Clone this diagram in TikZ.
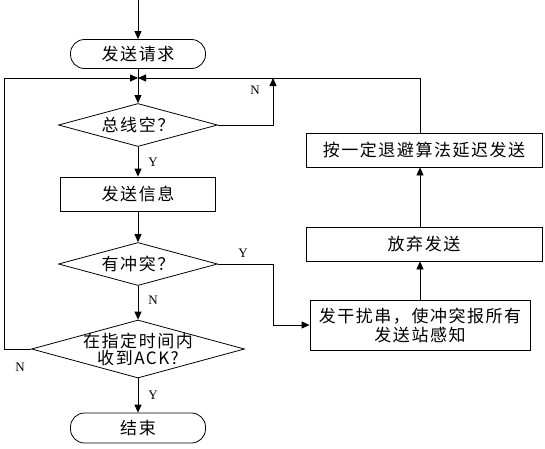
\documentclass[tikz,border=0pt]{standalone}
\usepackage{fontspec}
\setmainfont{Liberation Serif}
\newfontfamily\cjk[LetterSpace=9]{Noto Sans CJK SC}
\usetikzlibrary{shapes.geometric,arrows.meta}

\tikzset{
  base/.style={draw,line width=0.8pt,font=\cjk\fontsize{17}{17}\selectfont,inner sep=0pt,align=center},
  term/.style={base,rounded corners=14pt,minimum width=135pt,minimum height=29pt},
  proc/.style={base,rectangle,minimum width=155pt,minimum height=34pt},
  decide/.style={base,diamond,aspect=3.6,minimum width=159pt,minimum height=43pt},
  flow/.style={line width=0.8pt,-{Triangle[length=8pt,width=7pt]}},
  wire/.style={line width=0.8pt},
  yn/.style={font=\fontsize{13}{15}\selectfont,inner sep=0pt}
}

\begin{document}
\begin{tikzpicture}[x=1pt,y=-1pt]
\useasboundingbox (0,0) rectangle (545,448);

% main column
\node[term] (start) at (138,54) {发送请求};
\node[decide] (d1) at (138,125) {总线空？};
\node[proc] (send) at (138,194) {发送信息};
\node[decide] (d2) at (138,264) {有冲突？};
\node[decide,aspect=3.67,inner sep=-5pt,minimum width=213pt,minimum height=58pt] (d3) at (138,349) {在指定时间内\\收到ACK?};
\node[term,minimum height=30pt] (finish) at (138,428) {结束};

% right column
\node[proc,minimum width=236pt] (backoff) at (424,150) {按一定退避算法延迟发送};
\node[proc,minimum width=236pt] (abandon) at (424,244) {放弃发送};
\node[proc,minimum width=220pt,minimum height=50pt,font=\cjk\fontsize{17}{19}\selectfont] (jam) at (420,325) {发干扰串，使冲突报所有\\发送站感知};

\coordinate (entry) at (138,0);
\coordinate (J) at (138,78);
\coordinate (nx) at (273,78);
\coordinate (yx) at (273,264);
\coordinate (lx) at (4,349);

% labels
\node[yn] (n1) at (255,90) {N};
\node[yn] (y1) at (153,162) {Y};
\node[yn] (y2) at (243,253) {Y};
\node[yn] (n2) at (153,300) {N};
\node[yn] (n3) at (20,367) {N};
\node[yn] (y3) at (153,395) {Y};

% connectors
\draw[flow] (entry) -- (start);
\draw[wire] (start) -- (J);
\draw[flow] (J) -- (d1);
\draw[flow] (d1) -- (send);
\draw[flow] (send) -- (d2);
\draw[flow] (d2) -- (d3);
\draw[flow] (d3) -- (finish);
\draw[flow] (d1.east) -- (d1.east -| nx) -- (nx);
\draw[flow] (d2.east) -- (yx) |- (jam.west);
\draw[flow] (jam.north) -- (jam.north |- abandon.south);
\draw[flow] (jam.north |- abandon.north) -- (jam.north |- backoff.south);
\draw[flow] (jam.north |- backoff.north) -- (jam.north |- J) -- (J);
\draw[flow] (d3.west) -- (lx) |- (J);
\end{tikzpicture}
\end{document}
